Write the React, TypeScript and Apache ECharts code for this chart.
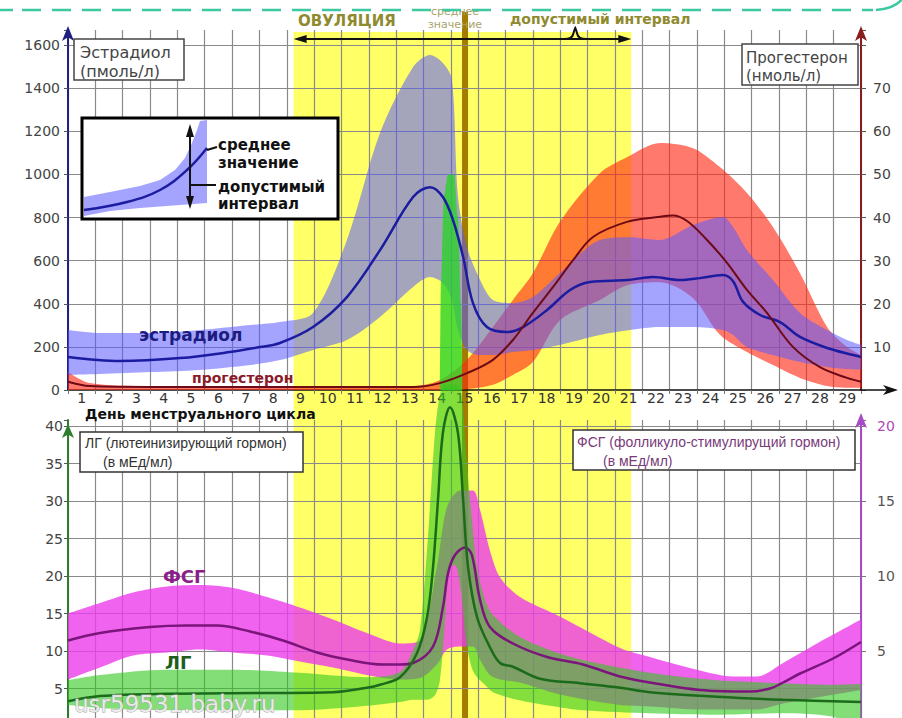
import React, { useEffect, useRef } from "react";
import * as echarts from "echarts";

// ---------- axis / tick labels ----------
const dayLabels = ["1","2","3","4","5","6","7","8","9","10","11","12","13","14","15","16","17","18","19","20","21","22","23","24","25","26","27","28","29"];

// ovulation window and mean ovulation day (x axis units: 0..29, day n centred at n-0.5)
const ovulationWindow = [8.25, 20.6];
const ovulationMeanDay = 14.52;
const bracePos = 18.55;

// ---------- estradiol (pmol/l) ----------
const e2BandX = [0, 1.17, 3.0, 4.83, 6.66, 7.75, 8.96, 10.2, 11.41, 12.62, 13.24, 13.71, 14.04, 14.26, 14.59, 15.07, 15.54, 16.27, 17.0, 17.99, 19.45, 20.55, 21.65, 22.86, 23.95, 24.32, 24.83, 25.78, 26.77, 27.76, 28.49, 29.0];
const e2Upper = [278, 264, 264, 278, 301, 315, 357, 696, 1192, 1498, 1554, 1517, 1440, 900, 663, 510, 417, 403, 431, 543, 696, 709, 696, 765, 802, 756, 649, 510, 357, 278, 232, 209];
const e2Lower = [70, 74, 83, 93, 116, 139, 186, 232, 339, 478, 524, 496, 417, 278, 186, 162, 162, 176, 186, 209, 255, 278, 292, 292, 278, 255, 199, 162, 130, 107, 97, 93];
const e2MeanX = [0, 1.9, 4.1, 5.92, 7.02, 7.75, 8.96, 10.2, 11.41, 12.62, 13.24, 13.71, 14.08, 14.45, 14.81, 15.32, 16.05, 16.64, 17.52, 18.36, 19.09, 20.44, 21.39, 22.38, 23.11, 23.95, 24.32, 24.68, 25.31, 26.04, 26.77, 27.76, 28.71, 29.0];
const e2Mean = [153, 134, 148, 176, 199, 218, 292, 431, 649, 895, 941, 895, 788, 617, 403, 292, 269, 292, 371, 464, 501, 510, 524, 510, 519, 533, 505, 410, 348, 315, 246, 195, 162, 153];

// ---------- progesterone (nmol/l) ----------
const pBandX = [0, 0.8, 3.0, 12.62, 13.6, 14.59, 15.54, 16.27, 17.0, 17.99, 19.45, 20.44, 21.65, 22.86, 23.84, 24.83, 25.78, 26.77, 27.76, 28.41, 29.0];
const pUpper = [4.2, 1.6, 0.9, 0.9, 2.3, 7.0, 14.6, 20.9, 27.1, 39.0, 50.3, 54.0, 57.3, 56.1, 51.7, 45.7, 37.8, 27.1, 14.6, 10.4, 8.1];
const pLower = [0, 0, 0, 0, 0, 0.2, 1.2, 3.5, 6.5, 16.2, 20.9, 24.3, 25.0, 21.3, 12.8, 8.8, 5.8, 2.8, 0.9, 0.5, 0.5];
const pMeanX = [0, 0.8, 3.0, 12.62, 13.6, 14.59, 15.54, 16.27, 17.0, 17.74, 18.47, 19.2, 20.44, 21.65, 22.12, 22.64, 23.37, 24.1, 24.83, 25.56, 26.51, 27.5, 28.49, 29.0];
const pMean = [1.9, 0.9, 0.7, 0.7, 1.6, 3.9, 7.0, 11.6, 17.9, 23.9, 30.1, 35.5, 39.0, 40.2, 40.5, 39.2, 34.8, 29.5, 23.2, 17.9, 10.0, 5.3, 2.8, 1.9];

// ---------- LH surge drawn in the upper panel (estradiol axis units) ----------
const lhSpikeX = [13.6, 13.64, 13.75, 13.9, 14.12, 14.26, 14.37, 14.43];
const lhSpikeTop = [0, 500, 900, 1000, 1000, 800, 400, 0];

// ---------- LH (mIU/ml) ----------
const lhBandX = [0, 1.17, 3.62, 6.03, 8.48, 10.93, 12.14, 12.62, 12.87, 13.13, 13.42, 13.6, 13.79, 13.93, 14.15, 14.37, 14.55, 14.77, 14.96, 15.25, 15.54, 16.42, 17.63, 18.83, 21.28, 23.73, 26.15, 27.87, 29.0];
const lhUpper = [6.1, 6.8, 7.5, 7.5, 7.1, 6.5, 7.2, 10.1, 12.8, 23.5, 39.1, 44.1, 45.5, 45.5, 45.5, 44.8, 36.8, 27.5, 21.2, 16.8, 14.8, 12.1, 10.1, 8.8, 7.1, 6.1, 5.7, 5.5, 5.6];
const lhLower = [2.8, 2.4, 2.1, 2.1, 2.1, 2.7, 3.2, 3.5, 3.5, 3.5, 4.1, 6.1, 14.1, 20.8, 21.5, 18.1, 11.5, 7.7, 6.5, 5.5, 4.5, 3.5, 2.7, 2.1, 1.7, 1.5, 1.7, 1.3, 0];
const lhMeanX = [0, 1.17, 3.62, 7.28, 9.69, 10.93, 11.41, 12.14, 12.76, 13.13, 13.35, 13.53, 13.71, 13.97, 14.26, 14.45, 14.63, 14.96, 15.43, 15.8, 16.27, 17.26, 18.72, 20.19, 21.28, 23.73, 26.15, 29.0];
const lhMean = [3.3, 4.0, 4.3, 4.4, 4.5, 5.1, 5.5, 6.5, 9.7, 14.5, 21.2, 30.1, 39.1, 42.5, 39.1, 30.1, 21.2, 14.5, 10.5, 8.4, 7.9, 6.3, 5.7, 5.1, 4.5, 3.9, 3.5, 3.2];

// ---------- FSH (mIU/ml) ----------
const fshBandX = [0, 1.17, 2.38, 3.62, 4.83, 6.03, 7.28, 8.48, 9.69, 10.93, 12.14, 12.87, 13.49, 13.86, 14.34, 14.81, 15.07, 15.43, 15.8, 16.53, 17.99, 20.19, 21.28, 23.11, 24.32, 25.2, 26.15, 27.39, 29.0];
const fshUpper = [7.5, 8.2, 8.9, 9.3, 9.4, 9.2, 8.6, 7.9, 7.1, 6.2, 5.5, 5.7, 10.6, 14.6, 15.7, 15.7, 14.4, 11.7, 9.9, 8.6, 7.3, 5.2, 4.6, 3.7, 3.3, 3.3, 4.2, 5.5, 7.1];
const fshLower = [3.1, 3.9, 4.7, 4.9, 5.1, 4.9, 4.7, 4.3, 3.9, 3.4, 3.1, 3.2, 4.1, 5.1, 5.3, 5.3, 4.4, 3.4, 3.1, 2.9, 2.1, 1.4, 1.3, 1.1, 1.1, 1.1, 1.5, 1.9, 2.4];
const fshMeanX = [0, 1.17, 3.0, 4.35, 5.45, 6.66, 7.86, 9.11, 10.31, 11.52, 12.14, 12.62, 13.35, 13.71, 13.9, 14.15, 14.52, 14.77, 15.07, 15.43, 16.27, 17.52, 18.83, 20.19, 21.28, 23.11, 24.94, 25.67, 26.15, 26.77, 27.98, 29.0];
const fshMean = [5.7, 6.2, 6.6, 6.7, 6.7, 6.3, 5.7, 4.9, 4.4, 4.1, 4.1, 4.2, 5.3, 7.9, 10.2, 11.4, 11.9, 11.4, 8.4, 6.6, 5.5, 4.6, 4.1, 3.3, 2.9, 2.4, 2.3, 2.5, 2.9, 3.5, 4.5, 5.6];

const FONT = '"DejaVu Sans"';
const GRID = "#8a8a8a";

const pairs = (xs: number[], ys: number[]) => xs.map((x, i) => [x, ys[i]]);
// value first, x second (encode below) so that stacking happens on the value dimension
const vxPairs = (xs: number[], vs: number[]) => xs.map((x, i) => [vs[i], x]);

function band(name: string, xs: number[], lo: number[], hi: number[], color: string, xi: number, yi: number, extra: any = {}) {
  const diff = hi.map((h, i) => Math.round((h - lo[i]) * 1000) / 1000);
  const common = {
    type: "line", xAxisIndex: xi, yAxisIndex: yi, stack: name, smooth: 0.3,
    encode: { x: 1, y: 0 },
    symbol: "none", showSymbol: false, silent: true, lineStyle: { width: 0, opacity: 0 }, ...extra,
  };
  return [
    { ...common, name: name + "-lo", data: vxPairs(xs, lo) },
    { ...common, name: name + "-hi", data: vxPairs(xs, diff), areaStyle: { color, opacity: 1 } },
  ];
}

function meanLine(name: string, xs: number[], ys: number[], color: string, width: number, xi: number, yi: number, extra: any = {}) {
  return {
    type: "line", name, xAxisIndex: xi, yAxisIndex: yi, data: pairs(xs, ys), smooth: 0.35,
    symbol: "none", showSymbol: false, silent: true, lineStyle: { color, width }, ...extra,
  };
}

let braceRegistered = false;

export default function App() {
  const ref = useRef<HTMLDivElement>(null);
  useEffect(() => {
    if (!ref.current) return;
    if (!braceRegistered) {
      echarts.graphic.registerShape(
        "brace",
        echarts.graphic.extendPath("M -11 0 Q -3 0 -2 -5 Q -1 -9 0 -11 Q 1 -9 2 -5 Q 3 0 11 0", {})
      );
      braceRegistered = true;
    }
    const chart = echarts.init(ref.current, undefined, { renderer: "svg" });

    const labelStyle = { color: "#444", fontSize: 14, fontFamily: "DejaVu Sans" };
    const option: any = {
      animation: false,
      backgroundColor: "#ffffff",
      grid: [
        { left: 68, right: 41, top: 30, height: 360, containLabel: false, outerBoundsMode: "none" },
        { left: 68, right: 41, top: 420, height: 306, containLabel: false, outerBoundsMode: "none" },
      ],
      xAxis: [
        {
          type: "value", gridIndex: 0, min: 0, max: 29, interval: 1, position: "bottom",
          axisLine: { show: true, onZero: false, lineStyle: { color: "#111", width: 1.5 } },
          axisTick: { show: true, length: 4, lineStyle: { color: "#777" } },
          axisLabel: { show: false },
          splitLine: { show: true, lineStyle: { color: GRID, width: 1.2 } },
        },
        {
          type: "category", gridIndex: 0, data: dayLabels, boundaryGap: true, position: "bottom",
          axisLine: { show: false }, axisTick: { show: false }, splitLine: { show: false },
          axisLabel: { show: true, interval: 0, margin: 1, color: "#333", fontSize: 14, fontFamily: "DejaVu Sans", lineHeight: 13 },
        },
        {
          type: "value", gridIndex: 1, min: 0, max: 29, interval: 1, position: "bottom",
          axisLine: { show: false }, axisTick: { show: false }, axisLabel: { show: false },
          splitLine: { show: true, lineStyle: { color: GRID, width: 1.2 } },
        },
      ],
      yAxis: [
        {
          type: "value", gridIndex: 0, position: "left", min: 0, max: 1670, interval: 200,
          axisLine: { show: true, onZero: false, symbol: ["none", "arrow"], symbolSize: [9, 15], symbolOffset: [0, 4], lineStyle: { color: "#1f2080", width: 2 } },
          axisTick: { show: true, length: 4, lineStyle: { color: "#555" } },
          axisLabel: { ...labelStyle, margin: 8, formatter: (v: number) => (v <= 1600 ? String(v) : "") },
          splitLine: { show: true, showMinLine: false, showMaxLine: false, lineStyle: { color: GRID, width: 1.2 } },
        },
        {
          type: "value", gridIndex: 0, position: "right", min: 0, max: 83.5, interval: 10,
          axisLine: { show: true, onZero: false, symbol: ["none", "arrow"], symbolSize: [9, 15], symbolOffset: [0, 4], lineStyle: { color: "#8a1c1c", width: 2 } },
          axisTick: { show: true, length: 5, lineStyle: { color: "#555" } },
          axisLabel: { ...labelStyle, margin: 12, formatter: (v: number) => (v >= 10 && v <= 70 ? String(v) : "") },
          splitLine: { show: false },
        },
        {
          type: "value", gridIndex: 1, position: "left", min: 0, max: 40.8, interval: 5,
          axisLine: { show: true, onZero: false, symbol: ["none", "arrow"], symbolSize: [9, 14], symbolOffset: [0, -4], lineStyle: { color: "#2e7d2e", width: 2 } },
          axisTick: { show: true, length: 4, lineStyle: { color: "#555" } },
          axisLabel: { ...labelStyle, margin: 5, formatter: (v: number) => (v >= 5 && v <= 40 ? String(v) : "") },
          splitLine: { show: true, showMinLine: false, showMaxLine: false, lineStyle: { color: GRID, width: 1.2 } },
        },
        {
          type: "value", gridIndex: 1, position: "right", min: 0, max: 20.4, interval: 5,
          axisLine: { show: true, onZero: false, symbol: ["none", "arrow"], symbolSize: [9, 15], symbolOffset: [0, 7], lineStyle: { color: "#a64ac9", width: 2 } },
          axisTick: { show: true, length: 5, lineStyle: { color: "#777" } },
          axisLabel: {
            ...labelStyle, margin: 16,
            color: (v: any) => (Number(v) === 20 ? "#b048b8" : "#555"),
            formatter: (v: number) => (v >= 5 && v <= 20 ? String(v) : ""),
          },
          splitLine: { show: false },
        },
      ],
      series: [
        ...band("prog", pBandX, pLower, pUpper, "rgba(255,40,20,0.62)", 0, 1),
        ...band("e2", e2BandX, e2Lower, e2Upper, "rgba(90,90,255,0.55)", 0, 0),
        {
          type: "line", name: "lh-surge", xAxisIndex: 0, yAxisIndex: 0, data: pairs(lhSpikeX, lhSpikeTop),
          smooth: 0.3, smoothMonotone: "x", symbol: "none", showSymbol: false, silent: true,
          lineStyle: { width: 0, opacity: 0 }, areaStyle: { color: "rgba(40,210,40,0.78)", opacity: 1 },
        },
        meanLine("e2-mean", e2MeanX, e2Mean, "#1c1ca0", 2.5, 0, 0),
        meanLine("prog-mean", pMeanX, pMean, "#6e0a16", 2, 0, 1),
        ...band("fsh", fshBandX, fshLower, fshUpper, "rgba(235,60,235,0.8)", 2, 3),
        meanLine("fsh-mean", fshMeanX, fshMean, "#7b157b", 2.5, 2, 3),
        ...band("lh", lhBandX, lhLower, lhUpper, "rgba(50,200,30,0.6)", 2, 2, { clip: false }),
        meanLine("lh-mean", lhMeanX, lhMean, "#1b6b1b", 2.5, 2, 2, { clip: false }),
      ],
    };
    chart.setOption(option);

    const X = (v: number) => chart.convertToPixel({ xAxisIndex: 0 }, v) as unknown as number;
    const yTop = chart.convertToPixel({ yAxisIndex: 0 }, 1670) as unknown as number;
    const y0 = chart.convertToPixel({ yAxisIndex: 0 }, 0) as unknown as number;
    const xL = X(ovulationWindow[0]);
    const xR = X(ovulationWindow[1]);
    const xM = X(ovulationMeanDay);
    const xB = X(bracePos);
    const xEnd = X(29);
    const by = 39;

    const txt = (text: string, x: number, y: number, font: string, fill: string, align = "left", extra: any = {}) => ({
      type: "text", z: 120, silent: true, x, y,
      style: { text, font, fill, align, verticalAlign: "middle", ...extra },
    });
    const box = (x: number, y: number, w: number, h: number, stroke: string, lw: number) => ({
      type: "rect", z: 110, silent: true, shape: { x, y, width: w, height: h },
      style: { fill: "#ffffff", stroke, lineWidth: lw },
    });
    const olive = "#8f8a2e";

    const graphic: any[] = [
      { type: "rect", z: -100, silent: true, shape: { x: xL, y: yTop + 2, width: xR - xL, height: 720 - yTop }, style: { fill: "#ffff66" } },
      { type: "line", z: -90, silent: true, shape: { x1: xM, y1: 12, x2: xM, y2: 720 }, style: { stroke: "#a27b00", lineWidth: 6 } },
      { type: "line", z: 50, silent: true, shape: { x1: xEnd, y1: y0, x2: xEnd + 28, y2: y0 }, style: { stroke: "#111", lineWidth: 1.5 } },
      { type: "polygon", z: 50, silent: true, shape: { points: [[xEnd + 22, y0 - 5], [xEnd + 37, y0], [xEnd + 22, y0 + 5], [xEnd + 26, y0]] }, style: { fill: "#111" } },
      { type: "line", z: 60, silent: true, shape: { x1: xL + 6, y1: by, x2: xR - 6, y2: by }, style: { stroke: "#111", lineWidth: 2 } },
      { type: "polygon", z: 60, silent: true, shape: { points: [[xL, by], [xL + 13, by - 4], [xL + 13, by + 4]] }, style: { fill: "#111" } },
      { type: "polygon", z: 60, silent: true, shape: { points: [[xR, by], [xR - 13, by - 4], [xR - 13, by + 4]] }, style: { fill: "#111" } },
      { type: "brace", z: 60, silent: true, x: xB, y: by, shape: {}, style: { fill: "none", stroke: "#111", lineWidth: 2 } },
      txt("ОВУЛЯЦИЯ", 298, 21, `bold 15px ${FONT}`, olive),
      txt("среднее", xM - 10, 11, `11px ${FONT}`, "#aaa36a", "center"),
      txt("значение", xM - 10, 24, `11px ${FONT}`, "#aaa36a", "center"),
      txt("допустимый интервал", 510, 19, `bold 14px ${FONT}`, olive),
      { type: "line", z: 130, silent: true, shape: { x1: 0, y1: 10, x2: 13, y2: 10 }, style: { stroke: "#3cc8a0", lineWidth: 2.5 } },
      { type: "line", z: 130, silent: true, shape: { x1: 22, y1: 10, x2: 873, y2: 10 }, style: { stroke: "#3cc8a0", lineWidth: 2.5, lineDash: [19, 11] } },
      { type: "bezierCurve", z: 130, silent: true, shape: { x1: 876, y1: 10, cpx1: 890, cpy1: 9, cpx2: 898, cpy2: 5, x2: 903, y2: -2 }, style: { stroke: "#3cc8a0", lineWidth: 2.5, fill: "none" } },
      box(74, 39, 110, 41, "#444", 1.5),
      txt("Эстрадиол", 80, 52, `16px ${FONT}`, "#444"),
      txt("(пмоль/л)", 80, 71, `16px ${FONT}`, "#444"),
      box(742, 44, 116, 41, "#444", 1.5),
      txt("Прогестерон", 746, 58, `15px ${FONT}`, "#444"),
      txt("(нмоль/л)", 746, 76, `15px ${FONT}`, "#444"),
      box(82, 118, 256, 101, "#000", 3),
      { type: "polygon", z: 115, silent: true, shape: { points: [[84, 197], [110, 192], [140, 186], [160, 180], [175, 170], [185, 158], [192, 143], [197, 130], [200, 121], [207, 120], [207, 203], [180, 205], [140, 208], [110, 211], [84, 216]] }, style: { fill: "rgba(90,90,255,0.55)" } },
      { type: "polyline", z: 116, silent: true, shape: { points: [[84, 210], [127, 202], [160, 190], [187, 170], [207, 148]], smooth: 0.4 }, style: { stroke: "#1c1ca0", lineWidth: 2.5, fill: "none" } },
      { type: "line", z: 117, silent: true, shape: { x1: 190, y1: 130, x2: 190, y2: 204 }, style: { stroke: "#111", lineWidth: 2 } },
      { type: "polygon", z: 117, silent: true, shape: { points: [[190, 124], [186, 137], [194, 137]] }, style: { fill: "#111" } },
      { type: "polygon", z: 117, silent: true, shape: { points: [[190, 209], [186, 196], [194, 196]] }, style: { fill: "#111" } },
      { type: "line", z: 117, silent: true, shape: { x1: 207, y1: 150, x2: 217, y2: 147 }, style: { stroke: "#111", lineWidth: 2 } },
      { type: "line", z: 117, silent: true, shape: { x1: 191, y1: 185, x2: 216, y2: 185 }, style: { stroke: "#111", lineWidth: 2 } },
      txt("среднее", 218, 145, `bold 15px ${FONT}`, "#111"),
      txt("значение", 218, 163, `bold 15px ${FONT}`, "#111"),
      txt("допустимый", 218, 187, `bold 15px ${FONT}`, "#111"),
      txt("интервал", 218, 204, `bold 15px ${FONT}`, "#111"),
      txt("эстрадиол", 139, 335, `bold 17px ${FONT}`, "#1c1c80"),
      txt("прогестерон", 192, 378, `bold 14px ${FONT}`, "#8b1a2a"),
      txt("День менструального цикла", 85, 414, `bold 14px ${FONT}`, "#111"),
      box(80, 432, 223, 40, "#333", 1.5),
      txt("ЛГ (лютеинизирующий гормон)", 85, 443, `14px "Liberation Sans"`, "#333"),
      txt("(в мЕд/мл)", 103, 462, `14px "Liberation Sans"`, "#333"),
      box(573, 430, 282, 40, "#333", 1.5),
      txt("ФСГ (фолликуло-стимулирущий гормон)", 577, 442, `14px "Liberation Sans"`, "#7a3a7a"),
      txt("(в мЕд/мл)", 603, 461, `14px "Liberation Sans"`, "#7a3a7a"),
      txt("ФСГ", 163, 576, `bold 18px ${FONT}`, "#8a1f8a"),
      txt("ЛГ", 165, 662, `bold 18px ${FONT}`, "#1d5e1d"),
      txt("usr59531.baby.ru", 74, 704, `23px ${FONT}`, "rgba(240,240,240,0.9)", "left", { stroke: "#a8a8a8", lineWidth: 1 }),
    ];
    chart.setOption({ graphic });

    return () => chart.dispose();
  }, []);
  return <div ref={ref} style={{ position: "absolute", left: 0, top: 0, width: 902, height: 718 }} />;
}
